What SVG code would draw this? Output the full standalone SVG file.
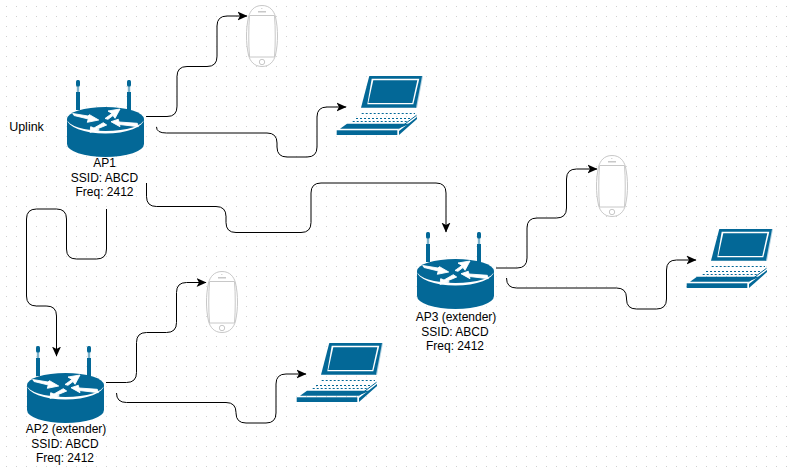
<svg xmlns="http://www.w3.org/2000/svg" width="787" height="471" viewBox="0 0 787 471">
<style>
.c{fill:none;stroke:#000;stroke-width:1;marker-end:url(#ah)}
.t{font-family:"Liberation Sans",Arial,sans-serif;font-size:12px;fill:#000;text-anchor:middle}
.b{fill:#036897}
.p{fill:#7fb3cb}
.w{fill:#fff}
.a{fill:#fff;stroke:#fff;stroke-width:.9;stroke-linejoin:round}
.g{fill:#fff;stroke:#c8c8c8;stroke-width:1}
</style>
<defs>
<pattern id="dots" width="10" height="10" patternUnits="userSpaceOnUse" x="6" y="6"><rect width="1" height="1" fill="#d0d0d0"/></pattern>
<marker id="ah" viewBox="0 0 10 10" refX="9.5" refY="5" markerWidth="10" markerHeight="10" markerUnits="userSpaceOnUse" orient="auto"><path d="M0,0.5 L10,5 L0,9.5 L2.5,5 Z" fill="#000"/></marker>
<symbol id="router" overflow="visible">
<rect class="p" x="76.8" y="86" width="2.4" height="7"/><rect class="p" x="127.8" y="86" width="2.4" height="7"/>
<path class="b" d="M76,92 H80 V110 H76 Z M127,92 H131 V110 H127 Z"/>
<rect class="b" x="76" y="80" width="4" height="6.500" rx="1.500"/><rect class="b" x="127" y="80" width="4" height="6.500" rx="1.500"/>
<path class="b" d="M67,119 V144 A38.500,13 0 0 0 144,144 V119 Z"/>
<ellipse class="b" cx="105.500" cy="119" rx="38.500" ry="12"/>
<path class="w" d="M67,119 A38.500,14.500 0 0 0 144,119 A38.500,12 0 0 1 67,119 Z"/>
<path class="a" d="M72.700,113.500 L88,116 L89.500,114.700 L98.700,120 L87.300,122.300 L88.300,119 L74,115.500 Z"/>
<path class="a" d="M105,118.500 L112,113.500 L108,111 L120,109 L115,118.300 L113,115.500 L108,119.300 Z"/>
<path class="a" d="M138.300,126.700 L119.500,124.500 L120,126.700 L111,121.700 L118.300,119.300 L119,122 L137.300,123.300 Z"/>
<path class="a" d="M106.700,125 L97,129 L99.300,130 L90,132.300 L90.700,126.700 L94,128 L103.300,122.700 Z"/>
</symbol>
<symbol id="phone" overflow="visible">
<path class="g" d="M262,5.500 C254,5.500 250,11 248.500,17 C247,24 246.500,30 246.500,36 C246.500,42 247,48 248.500,55 C250,61 254,66.500 262,66.500 C270,66.500 274,61 275.500,55 C277,48 277.500,42 277.500,36 C277.500,30 277,24 275.500,17 C274,11 270,5.500 262,5.500 Z"/>
<path class="g" d="M249.500,15.500 H274.500 C275.500,28 275.500,44 274.500,57 H249.500 C248.500,44 248.500,28 249.500,15.500 Z"/>
<rect x="258" y="11" width="8" height="1.500" fill="#c8c8c8"/>
<rect x="261" y="8" width="1.500" height="1" fill="#d8d8d8"/>
<circle class="g" cx="262" cy="62" r="2.700"/>
</symbol>
<symbol id="laptop" overflow="visible">
<path class="p" d="M423,76 L417,108 H415 L421,76 Z" opacity=".6"/>
<path class="b" d="M369.300,76 H422 L416,107.700 H361 Z"/>
<path class="w" d="M371.700,78.700 H419.300 L413.300,104.300 H367.300 Z"/>
<path class="b" d="M373.300,80.300 H417.300 L412.300,103 H368.300 Z"/>
<path class="b" d="M340,128.700 L347,123.700 H410 L398,128.700 Z"/>
<rect class="b" x="336.700" y="130.300" width="60.600" height="4.700"/>
<path class="b" d="M399,131 L417,117 V119 L399,135 Z"/>
<path d="M398.500,128.700 L416.500,115.300" stroke="#036897" stroke-width="1" fill="none"/>
<path d="M361.700,113.500 H415 M356,118.500 H410 M352.700,121.500 H408.300" stroke="#036897" stroke-width="1.200" stroke-dasharray="2 2" fill="none"/>
</symbol>
</defs>
<rect width="787" height="471" fill="#fff"/>
<rect width="787" height="471" fill="url(#dots)"/>
<g id="connectors">
<path class="c" d="M146,116.500 H167 Q177,116.500 177,106.500 V76.500 Q177,66.500 187,66.500 H207 Q217,66.500 217,56.500 V26 Q217,16 227,16 H247"/>
<path class="c" d="M156.500,127 Q156.500,133 166.500,133 H267 Q277,133 277,143 V147 Q277,157 287,157 H307 Q317,157 317,147 V117 Q317,107 327,107 H346"/>
<path class="c" d="M146.500,183 V196.500 Q146.500,206.500 156.500,206.500 H216 Q226,206.500 226,216.500 V222.500 Q226,232.500 236,232.500 H301 Q311,232.500 311,222.500 V193 Q311,183 321,183 H436 Q446,183 446,193 V232"/>
<path class="c" d="M106.500,209 V249 Q106.500,259 96.500,259 H76.500 Q66.500,259 66.500,249 V219 Q66.500,209 56.500,209 H36.500 Q26.500,209 26.500,219 V296 Q26.500,306 36.500,306 H46.500 Q56.500,306 56.500,316 V356"/>
<path class="c" d="M496,268 H517 Q527,268 527,258 V228 Q527,218 537,218 H556.500 Q566.500,218 566.500,208 V179 Q566.500,169 576.500,169 H597"/>
<path class="c" d="M506.500,278 Q506.500,288 516.500,288 H616.500 Q626.500,288 626.500,298 V299 Q626.500,309 636.500,309 H656.500 Q666.500,309 666.500,299 V270 Q666.500,260 676.500,260 H696"/>
<path class="c" d="M106,382.500 H126.500 Q136.500,382.500 136.500,372.500 V342.500 Q136.500,332.500 146.500,332.500 H166.500 Q176.500,332.500 176.500,322.500 V292.500 Q176.500,282.500 186.500,282.500 H206"/>
<path class="c" d="M116.500,393 Q116.500,402.500 126.500,402.500 H226 Q236,402.500 236,412.500 V413 Q236,423 246,423 H266 Q276,423 276,413 V384 Q276,374 286,374 H306"/>
</g>
<g id="ap1"><use href="#router"/><text class="t" x="104.500" y="167">AP1</text><text class="t" x="104.500" y="182">SSID: ABCD</text><text class="t" x="104.500" y="196">Freq: 2412</text></g>
<g id="ap2"><use href="#router" x="-40" y="266"/><text class="t" x="66" y="433">AP2 (extender)</text><text class="t" x="65" y="448">SSID: ABCD</text><text class="t" x="65" y="462">Freq: 2412</text></g>
<g id="ap3"><use href="#router" x="350" y="152"/><text class="t" x="456" y="321">AP3 (extender)</text><text class="t" x="455" y="336">SSID: ABCD</text><text class="t" x="455" y="350">Freq: 2412</text></g>
<g id="uplink"><text class="t" x="26.500" y="131" style="font-size:12.5px">Uplink</text></g>
<g id="phone1"><use href="#phone"/></g>
<g id="phone2"><use href="#phone" x="-40" y="266"/></g>
<g id="phone3"><use href="#phone" x="350" y="150"/></g>
<g id="laptop1"><use href="#laptop"/></g>
<g id="laptop2"><use href="#laptop" x="-40" y="267"/></g>
<g id="laptop3"><use href="#laptop" x="350" y="153"/></g>
</svg>
